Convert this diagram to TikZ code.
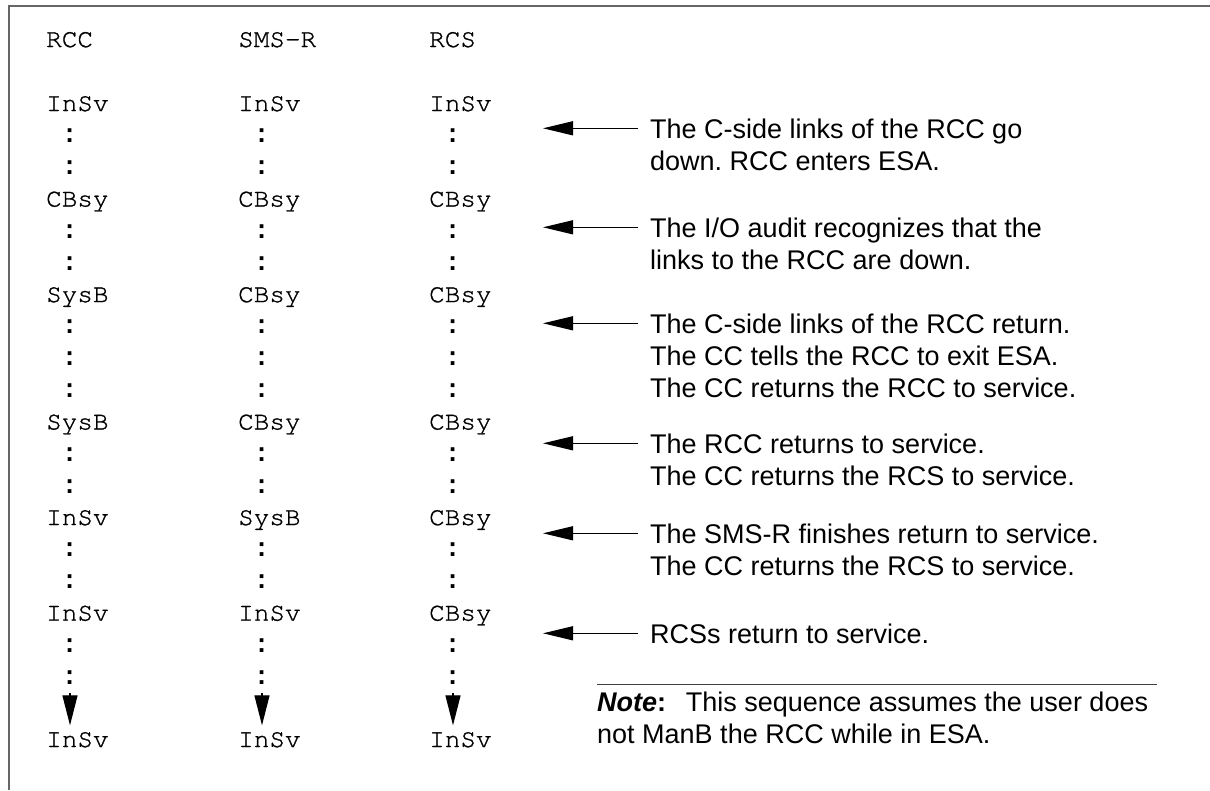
\documentclass[tikz,border=0pt]{standalone}
\usepackage{fontspec}
\setmainfont{Liberation Sans}
\setmonofont{TeX Gyre Cursor}[FakeBold=1]
\newfontfamily\dotfont{Liberation Mono}
\usetikzlibrary{arrows.meta}

\newcommand{\wait}{~{\dotfont\bfseries :}}

\tikzset{
  state/.style={anchor=base west, inner sep=0pt, align=left,
    font=\ttfamily\fontsize{26}{31.85}\selectfont},
  remark/.style={anchor=base west, inner sep=0pt, align=left,
    font=\frenchspacing\fontsize{27}{32}\selectfont},
  pointer/.style={-{Triangle[length=30pt,width=14pt]}, line width=1.3pt,
    shorten <=12pt},
  settle/.style={-{Triangle[length=30pt,width=15pt]}, line width=1.3pt,
    shorten <=8.7pt, shorten >=6.5pt}
}

\begin{document}
\begin{tikzpicture}[x=1pt,y=-1pt]
    \useasboundingbox (0,0) rectangle (1210,790);
    \draw[black!60, line width=1.6pt] (9,790) -- (9,6) -- (1210,6);
    % headers
    \node[state] (hRCC)  at (46,47)  {RCC};
    \node[state] (hSMS)  at (238,47) {SMS-R};
    \node[state] (hRCS)  at (429,47) {RCS};
    % state columns (base = last line)
    \node[state] (cRCC) at (46,684.3)  {InSv\\\wait\\\wait\\CBsy\\\wait\\\wait\\SysB\\\wait\\\wait\\\wait\\SysB\\\wait\\\wait\\InSv\\\wait\\\wait\\InSv\\\wait\\\wait};
    \node[state] (cSMS) at (238,684.3) {InSv\\\wait\\\wait\\CBsy\\\wait\\\wait\\CBsy\\\wait\\\wait\\\wait\\CBsy\\\wait\\\wait\\SysB\\\wait\\\wait\\InSv\\\wait\\\wait};
    \node[state] (cRCS) at (429,684.3) {InSv\\\wait\\\wait\\CBsy\\\wait\\\wait\\CBsy\\\wait\\\wait\\\wait\\CBsy\\\wait\\\wait\\CBsy\\\wait\\\wait\\CBsy\\\wait\\\wait};
    \node[state] (fRCC) at (46,747)  {InSv};
    \node[state] (fSMS) at (238,747) {InSv};
    \node[state] (fRCS) at (429,747) {InSv};
    \draw[settle] ([xshift=24pt]cRCC.south west) -- ([xshift=24pt]fRCC.north west);
    \draw[settle] ([xshift=24pt]cSMS.south west) -- ([xshift=24pt]fSMS.north west);
    \draw[settle] ([xshift=24pt]cRCS.south west) -- ([xshift=24pt]fRCS.north west);
    % remarks (base = last line)
    \node[remark] (t1) at (650,170) {The C-side links of the RCC go\\down. RCC enters ESA.};
    \node[remark] (t2) at (650,269) {The I/O audit recognizes that the\\links to the RCC are down.};
    \node[remark] (t3) at (650,397) {The C-side links of the RCC return.\\The CC tells the RCC to exit ESA.\\The CC returns the RCC to service.};
    \node[remark] (t4) at (650,485) {The RCC returns to service.\\The CC returns the RCS to service.};
    \node[remark] (t5) at (650,575) {The SMS-R finishes return to service.\\The CC returns the RCS to service.};
    \node[remark] (t6) at (650,643) {RCSs return to service.};
    \coordinate (p1) at (543,128.3);
    \coordinate (p2) at (543,227.3);
    \coordinate (p3) at (543,323.3);
    \coordinate (p4) at (543,443.3);
    \coordinate (p5) at (543,533.3);
    \coordinate (p6) at (543,633.3);
    \draw[pointer] (t1.west |- p1) -- (p1);
    \draw[pointer] (t2.west |- p2) -- (p2);
    \draw[pointer] (t3.west |- p3) -- (p3);
    \draw[pointer] (t4.west |- p4) -- (p4);
    \draw[pointer] (t5.west |- p5) -- (p5);
    \draw[pointer] (t6.west |- p6) -- (p6);
    % note
    \draw[black!75, line width=1.3pt] (597,684.5) -- (1157,684.5);
    \node[remark] (note) at (597,743) {\textbf{\textit{Note}:}\hspace{0.45em} This sequence assumes the user does\\not ManB the RCC while in ESA.};
\end{tikzpicture}
\end{document}
